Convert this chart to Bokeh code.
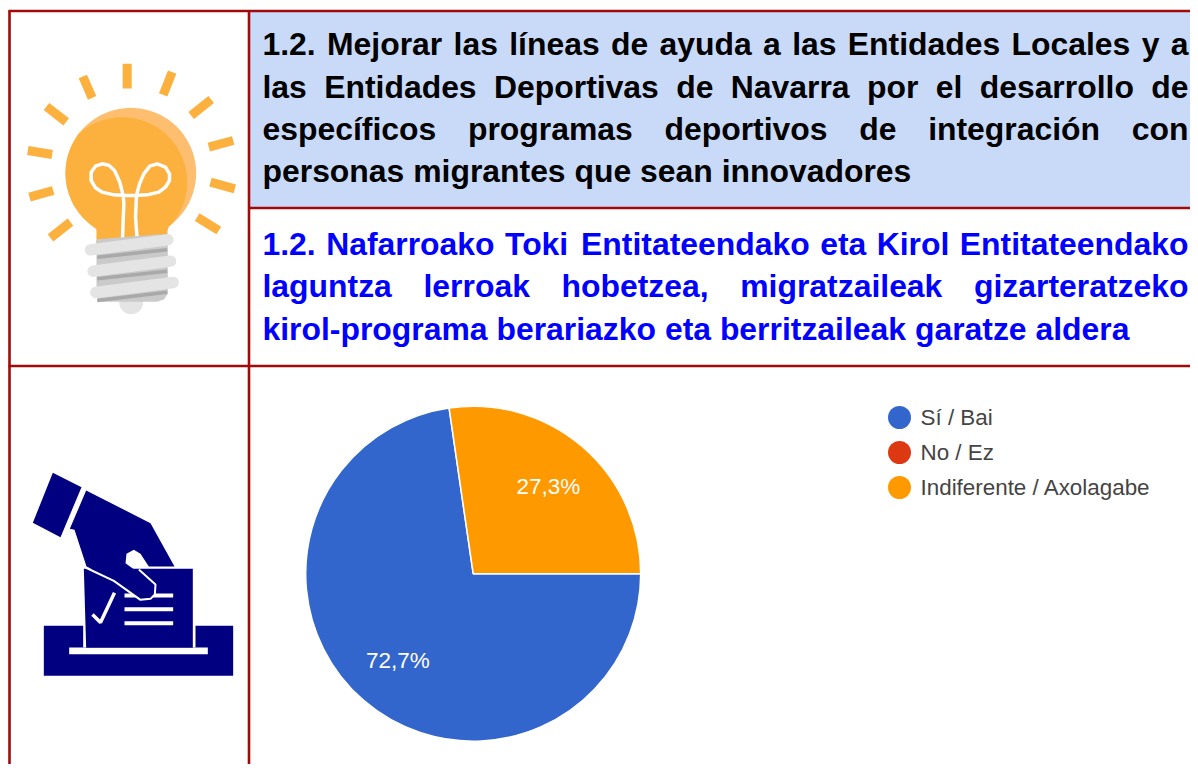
import numpy as np
from bokeh.plotting import figure
from bokeh.models import Range1d
from bokeh.core.properties import value
from bokeh.embed import file_html
from bokeh.resources import INLINE

# ---- data ----
categories = ["Sí / Bai", "No / Ez", "Indiferente / Axolagabe"]
shares = [72.7, 0.0, 27.3]
share_labels = ["72,7%", "", "27,3%"]
pie_colors = ["#3366cc", "#dc3912", "#ff9900"]
title_es = [
    "1.2. Mejorar las líneas de ayuda a las Entidades Locales y a",
    "las Entidades Deportivas de Navarra por el desarrollo de",
    "específicos programas deportivos de integración con",
    "personas migrantes que sean innovadores",
]
title_eu = [
    "1.2. Nafarroako Toki Entitateendako eta Kirol Entitateendako",
    "laguntza lerroak hobetzea, migratzaileak gizarteratzeko",
    "kirol-programa berariazko eta berritzaileak garatze aldera",
]

W, H = 1190, 764
def Y(py):
    return H - np.asarray(py, dtype=float)

p = figure(width=W, height=H, output_backend="svg", toolbar_location=None,
           x_range=Range1d(0, W), y_range=Range1d(0, H),
           x_axis_type=None, y_axis_type=None, min_border=0,
           background_fill_color="white", border_fill_color="white",
           outline_line_color=None)
p.xgrid.visible = False
p.ygrid.visible = False

# ---- table ----
BORDER = "#a00a0a"
p.quad(left=[249], right=[W], top=Y([11]), bottom=Y([207]), fill_color="#c9daf8", line_color=None)
hl = [(8, W, 10.5), (249, W, 207.5), (8, W, 365.5)]
vl = [(9, 10, H), (248.5, 10, H)]
for x0, x1, y in hl:
    p.line([x0, x1], Y([y, y]), line_color=BORDER, line_width=2.6)
for x, y0, y1 in vl:
    p.line([x, x], Y([y0, y1]), line_color=BORDER, line_width=2.6)

# ---- justified bold text ----
W_AR = dict(a=556,b=611,c=556,d=611,e=556,f=333,g=611,h=611,i=278,j=278,k=556,l=278,m=889,n=611,o=611,
            p=611,q=611,r=389,s=556,t=333,u=611,v=556,w=778,x=556,y=556,z=500)
W_AR.update({"í":278,"ó":611,"-":333,",":278,".":278,"1":556,"2":556,"M":833,"E":667,"D":722,"N":722,"T":611,
             "K":722,"L":611," ":278})
FS = 31.9
def tw(s):
    return sum(W_AR[c] for c in s) * FS / 1000

def draw_block(lines, baselines, color, x0=262, x1=1188):
    for i, (ln, by_) in enumerate(zip(lines, baselines)):
        words = ln.split(" ")
        last = i == len(lines) - 1
        gap = tw(" ") if last else (x1 - x0 - sum(tw(w) for w in words)) / (len(words) - 1)
        x = x0
        xs = []
        for w in words:
            xs.append(x)
            x += tw(w) + gap
        p.text(xs, Y([by_] * len(words)), text=words, text_font=value("Liberation Sans"),
               text_font_style="bold", text_font_size=f"{FS}px", text_color=color,
               text_baseline="middle", text_align="left")

draw_block(title_es, [43.5, 86, 128.5, 170.5], "#000000")
draw_block(title_eu, [243, 285.5, 328], "#0000ff")

# ---- pie ----
cx, cy, r = 472.7, 573.2, 167.5
frac = np.array(shares) / sum(shares)
ang = 0.0
mids = []
for f, col in zip(frac, pie_colors):
    a0 = ang
    a1 = ang - f * 2 * np.pi
    mids.append((a0 + a1) / 2)
    ang = a1
    if f > 0:
        p.wedge(x=[cx], y=Y([cy]), radius=r, start_angle=a1, end_angle=a0, direction="anticlock",
                fill_color=col, line_color="white", line_width=1.5)
for lab, m in zip(share_labels, mids):
    if lab:
        lx = cx + 0.687 * r * np.cos(m)
        ly = cy - 0.687 * r * np.sin(m)
        p.text([lx], Y([ly]), text=[lab], text_font=value("Liberation Sans"), text_font_size="22.5px",
               text_color="white", text_align="center", text_baseline="middle")

# ---- legend ----
for i, (c, col) in enumerate(zip(categories, pie_colors)):
    ly = 417 + i * 35
    p.scatter([899], Y([ly]), size=23, marker="circle", fill_color=col, line_color=None)
    p.text([920], Y([ly]), text=[c], text_font=value("Liberation Sans"), text_font_size="22.4px",
           text_color="#444444", text_align="left", text_baseline="middle")

# ---- bulb icon (zoom coordinates / 3) ----
def bx(a): return np.asarray(a, dtype=float) / 3
def by(a): return Y(np.asarray(a, dtype=float) / 3)
ORANGE, RIM = "#fcb03e", "#fdbf6f"
rays = [((380,190),(380,264)),((247,228),(275,292)),((138,318),(197,364)),((82,450),(155,462)),
        ((87,590),(158,570)),((150,712),(210,665)),((590,650),(655,690)),((630,545),(703,565)),
        ((625,440),(698,420)),((572,345),(632,297)),((515,215),(488,283))]
p.multi_line([list(bx([a[0], b[0]])) for a, b in rays], [list(by([a[1], b[1]])) for a, b in rays],
             line_color=ORANGE, line_width=9, line_cap="butt")
# nub and base
t = np.linspace(0, 2 * np.pi, 80)
p.patch(bx(392 + 36 * np.cos(t)), by(905 + 36 * np.sin(t)), fill_color="#e4e4e4", line_color=None)
# bulb outer
ox, oy, orad = 391, 518, 196
neck_x = [240, 262, 280, 288, 288, 501, 501, 510, 528, 545]
neck_y = [630, 648, 665, 690, 730, 730, 690, 665, 648, 630]
p.patch(bx(neck_x), by(neck_y), fill_color=ORANGE, line_color=None)
p.patch(bx(ox + orad * np.cos(t)), by(oy + orad * np.sin(t)), fill_color=RIM, line_color=None)
# inner darker shape: radial min of outer and offset circle
ix, iy, irad = 365, 545, 195
th = np.linspace(0, 2 * np.pi, 240)
dx, dy = ox - ix, oy - iy
b_ = dx * np.cos(th) + dy * np.sin(th)
rad = np.minimum(orad, -b_ + np.sqrt(b_ ** 2 - (dx ** 2 + dy ** 2 - irad ** 2)))
p.patch(bx(ox + rad * np.cos(th)), by(oy + rad * np.sin(th)), fill_color=ORANGE, line_color=None)
# filament
left = ([366,368,370,368,358,342,325,305,285,272,272,285,305,340,375,405,440,475,495,507,507,495,470,448,430,417,408,405,410],
        [715,660,610,585,545,510,494,490,497,515,540,562,575,583,585,585,583,575,560,540,520,500,490,497,520,550,585,650,715])
p.line(bx(left[0]), by(left[1]), line_color="white", line_width=3.5, line_join="round")
# base
p.patch(bx([288,502,502,490,470,305,292,288]), by([716,700,880,897,904,904,897,880]), fill_color="#cacaca", line_color=None)
for y0, y1 in [((770),(748)), ((835),(812)), ((900),(875))]:
    p.line(bx([290, 500]), by([y0, y1]), line_color="#a9a9a9", line_width=3.5)
for (a, b, c, d) in [(270,748,502,718),(278,812,510,782),(286,876,518,846)]:
    p.line(bx([a, c]), by([b, d]), line_color="#e4e4e4", line_width=11.5, line_cap="round")

# ---- ballot icon ----
NAVY = "#000080"
def vy(a): return Y(440 + np.asarray(a, dtype=float) / 3)
def nq(x0, x1, y0, y1, col):
    p.quad(left=[x0 / 3], right=[x1 / 3], top=vy([y0]), bottom=vy([y1]), fill_color=col, line_color=None)
nq(130, 698, 556, 706, NAVY)
nq(206, 622, 621, 641, "white")
nq(248, 585, 540, 621, "white")
p.patch(bx([250,577,577,257]), vy([385,385,622,622]), fill_color=NAVY, line_color=None)
p.multi_line([list(bx([372,518]))] * 3, [list(vy([465,465])), list(vy([506,506])), list(vy([548,548]))],
             line_color="white", line_width=4)
p.line(bx([276,300,342]), vy([522,546,457]), line_color="white", line_width=3.5)
p.patch(bx([157,243,180,97]), vy([97,140,290,247]), fill_color=NAVY, line_color=None)
hand_x = [257,450,522,445,420,400,378,375,460,465,455,420,340,258,222,208]
hand_y = [150,248,378,378,340,328,340,368,430,460,473,477,420,378,268,265]
p.patch(bx(hand_x), vy(hand_y), fill_color=NAVY, line_color=None)
p.line(bx([255,340,420,450,463,465,415]), vy([381,421,478,475,462,432,387]), line_color="white", line_width=2)

open("out.html", "w").write(file_html(p, INLINE))
